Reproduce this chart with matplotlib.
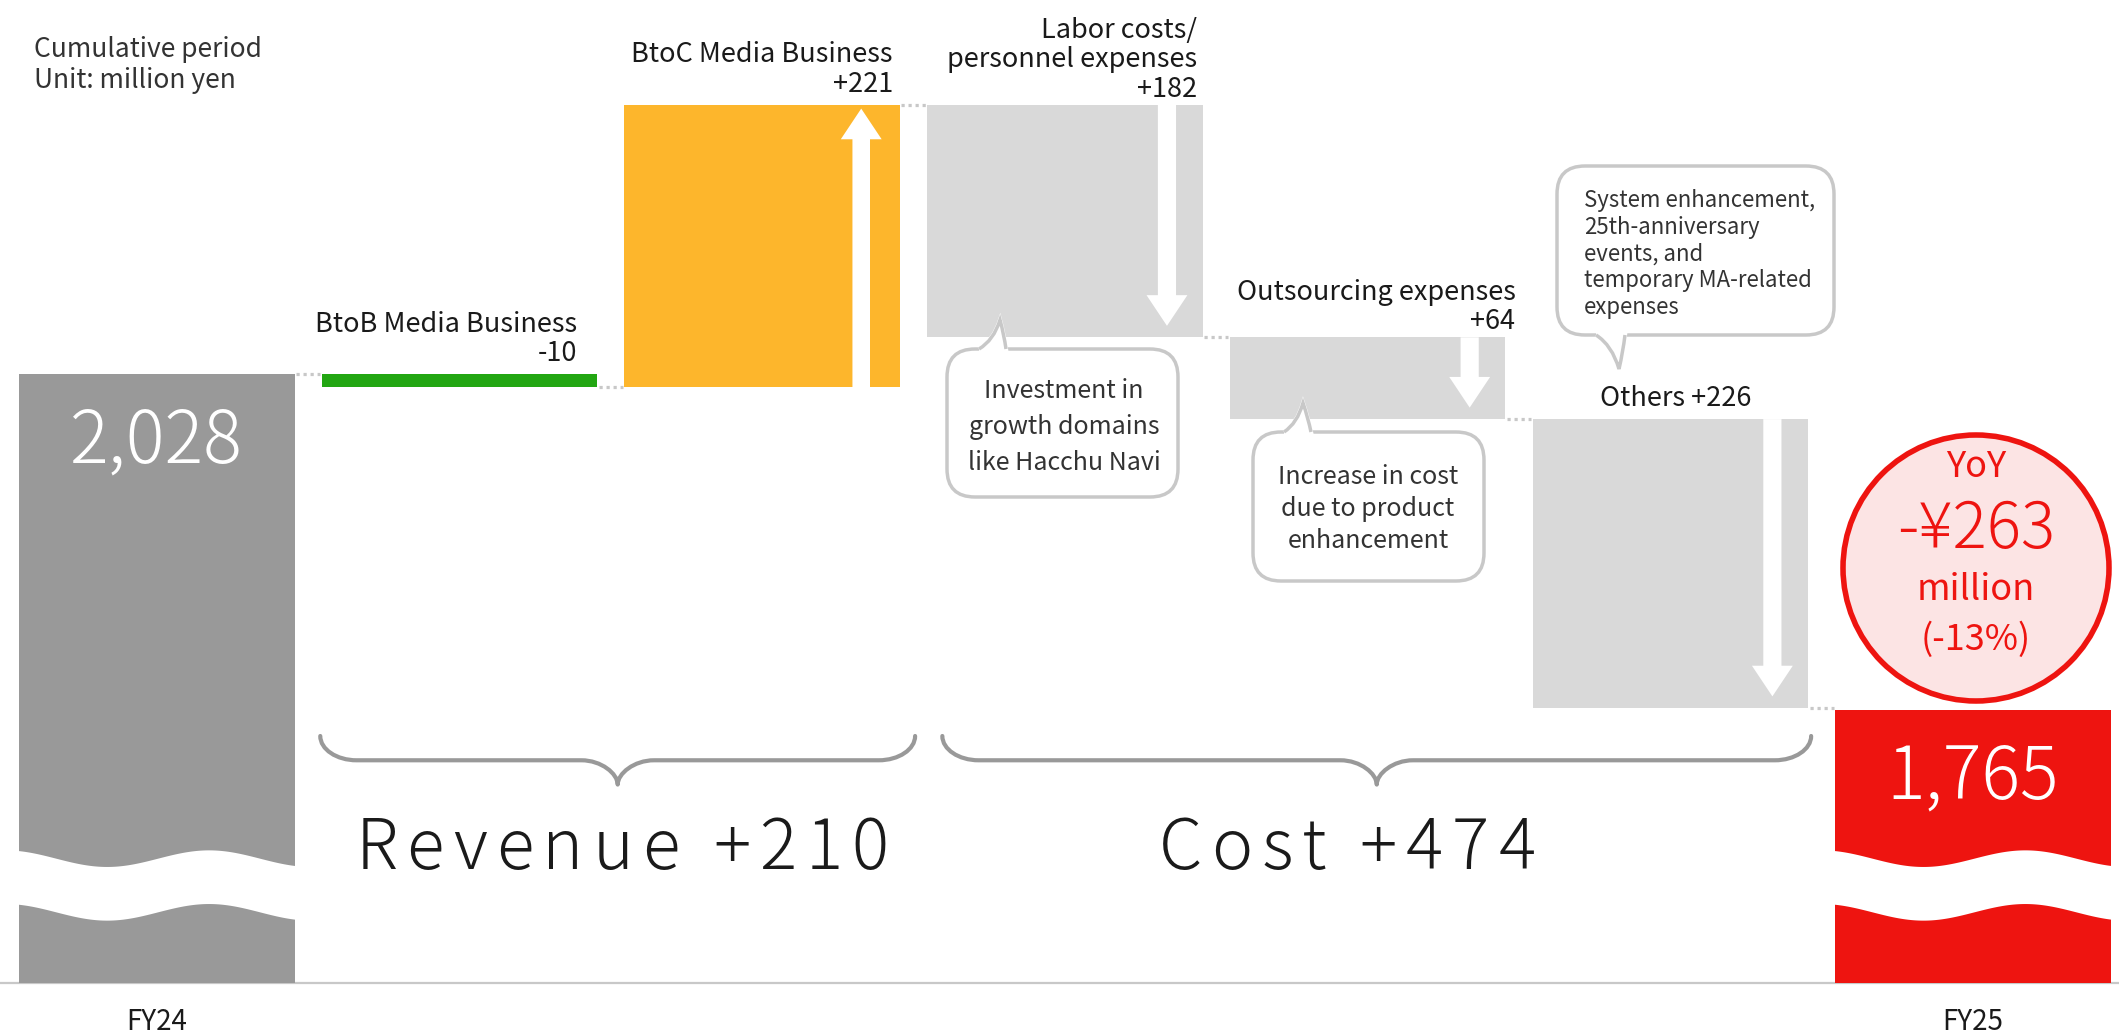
import numpy as np
import matplotlib
matplotlib.use('Agg')
import matplotlib.pyplot as plt
from matplotlib.patches import Circle, FancyBboxPatch, FancyArrow, PathPatch, Polygon
from matplotlib.path import Path
from matplotlib.font_manager import FontProperties, findfont, get_font

plt.rcParams['font.family'] = ['Noto Sans CJK JP', 'DejaVu Sans']

# values in million yen
start_label = 'FY24'
end_label = 'FY25'
start_value = 2028
end_value = 1765
step_names = ['BtoB Media Business', 'BtoC Media Business',
              'Labor costs/\npersonnel expenses', 'Outsourcing expenses', 'Others']
step_deltas = [-10, 221, -182, -64, -226]
step_texts = ['-10', '+221', '+182', '+64', '+226']
step_colors = ['#22a612', '#fdb62c', '#d9d9d9', '#d9d9d9', '#d9d9d9']
revenue_total = '+210'
cost_total = '+474'
yoy_amount = '-¥263'
yoy_pct = '(-13%)'

ink = '#1a1a1a'
W, H = 2119, 1035
fig = plt.figure(figsize=(W / 100, H / 100), dpi=100)
ax = fig.add_axes([0, 0, 1, 1])
ax.set_xlim(-0.518, 6.482)
ax.set_ylim(1511, 2321)
ax.axis('off')

base = 1552   # value at the (broken) floor of the chart
bw = 0.91

# start / end bars
ax.bar([0], [start_value - base], bottom=base, width=bw, color='#999999', zorder=2)
ax.bar([6], [end_value - base], bottom=base, width=bw, color='#ee1410', zorder=2)

# floating steps
level = start_value
levels = [level]
tops, bottoms = [], []
for i, d in enumerate(step_deltas):
    lo, hi = min(level, level + d), max(level, level + d)
    ax.bar([i + 1], [hi - lo], bottom=lo, width=bw, color=step_colors[i], zorder=2)
    tops.append(hi)
    bottoms.append(lo)
    # white arrow inside the bar
    ax_x = i + 1 + bw / 2 - 0.118
    if abs(d) > 30:
        if d > 0:
            ax.add_patch(FancyArrow(ax_x - 0.01, lo, 0, hi - lo - 3, width=0.058, head_width=0.135,
                                    head_length=24, length_includes_head=True,
                                    fc='white', ec='none', zorder=3))
        else:
            ax.add_patch(FancyArrow(ax_x, hi, 0, -(hi - lo - 9), width=0.06, head_width=0.135,
                                    head_length=24, length_includes_head=True,
                                    fc='white', ec='none', zorder=3))
    level += d
    levels.append(level)

# dotted connectors
for i, lv in enumerate(levels):
    ax.plot([i + bw / 2 + 0.005, i + 1 - bw / 2 - 0.005], [lv, lv], color='#c8c8c8',
            lw=2.3, ls=(0, (1, 1.2)), zorder=1)

# floor line
ax.axhline(base, color='#c8c8c8', lw=1.6, zorder=1)

# axis-break waves
def wave_cut(xc):
    xs = np.linspace(xc - bw / 2 - 0.01, xc + bw / 2 + 0.01, 200)
    t = (xs - (xc - bw / 2)) / bw
    w = 6.5 * np.cos(2 * np.pi * (t - 0.69) / 0.74)
    up = 1649 + w
    dn = 1607 + w
    pts = np.vstack([np.column_stack([xs, up]), np.column_stack([xs[::-1], dn[::-1]])])
    ax.add_patch(Polygon(pts, closed=True, fc='white', ec='none', zorder=2.5))

wave_cut(0)
wave_cut(6)

# values on the end bars
ax.text(0, start_value - 69, f'{start_value:,}', color='white', fontsize=52, fontweight='light',
        ha='center', va='baseline', zorder=4)
ax.text(6, end_value - 69, f'{end_value:,}', color='white', fontsize=52, fontweight='light',
        ha='center', va='baseline', zorder=4)
ax.text(0, 1515, start_label, color=ink, fontsize=20, ha='center', va='baseline')
ax.text(6, 1515, end_label, color=ink, fontsize=20, ha='center', va='baseline')

# step labels
label_dx = [-20, -7, -6, 10]
label_dy = [5, 5, 1.5, 1.5]
for i in range(4):
    ax.annotate(step_names[i] + '\n' + step_texts[i], xy=(i + 1 + bw / 2, tops[i]),
                xytext=(label_dx[i] * 0.72, label_dy[i]), textcoords='offset points',
                ha='right', va='bottom', fontsize=19.5, color=ink, linespacing=1.12)
ax.annotate(step_names[4] + ' ' + step_texts[4], xy=(5, tops[4]), xytext=(4, 5),
            textcoords='offset points', ha='center', va='bottom', fontsize=19.5, color=ink)

# braces
def brace(x0, x1, yt=1745, ym=1726, yb=1707, r=0.12):
    xc = (x0 + x1) / 2
    k = 0.55
    verts = [(x0, yt), (x0, yt - k * (yt - ym)), (x0 + r * (1 - k), ym), (x0 + r, ym),
             (xc - r, ym),
             (xc - r * (1 - k), ym), (xc, ym - k * (ym - yb)), (xc, yb),
             (xc, ym - k * (ym - yb)), (xc + r * (1 - k), ym), (xc + r, ym),
             (x1 - r, ym),
             (x1 - r * (1 - k), ym), (x1, yt - k * (yt - ym)), (x1, yt)]
    codes = [Path.MOVETO] + [Path.CURVE4] * 3 + [Path.LINETO] + [Path.CURVE4] * 6 + \
            [Path.LINETO] + [Path.CURVE4] * 3
    ax.add_patch(PathPatch(Path(verts, codes), fill=False, ec='#999999', lw=3,
                           capstyle='round', joinstyle='round'))

brace(1 - 0.46, 2 + 0.505)
brace(3 - 0.405, 5 + 0.465)

# overlay in pixel coordinates for notes, callouts and the YoY badge
ov = fig.add_axes([0, 0, 1, 1])
ov.set_xlim(0, W)
ov.set_ylim(H, 0)
ov.axis('off')
ov.patch.set_alpha(0)

ov.text(34, 57, 'Cumulative period', fontsize=19, color='#333333', va='baseline')
ov.text(34, 88, 'Unit: million yen', fontsize=19, color='#333333', va='baseline')


def spaced_text(xc, y, s, size, track):
    prop = FontProperties(family='Noto Sans CJK JP', weight='light', size=size)
    font = get_font(findfont(prop))
    font.set_size(size, 100)
    advs = [font.load_char(ord(c)).linearHoriAdvance / 65536 for c in s]
    total = sum(advs) + track * (len(s) - 1)
    x = xc - total / 2
    for c, a in zip(s, advs):
        if c != ' ':
            ov.text(x + a / 2, y, c, fontproperties=prop, color=ink, ha='center', va='baseline')
        x += a + track


spaced_text(622, 869, 'Revenue ' + revenue_total, 50, 9)
spaced_text(1347, 869, 'Cost ' + cost_total, 50, 9)


def callout(x0, y0, x1, y1, bl, br, tip, side):
    ov.add_patch(FancyBboxPatch((x0, y0), x1 - x0, y1 - y0,
                                boxstyle='round,pad=0,rounding_size=28',
                                fc='white', ec='#c8c8c8', lw=2.5, zorder=5))
    ey = y0 if side == 'top' else y1
    tx, ty = tip
    cl = (bl + 0.7 * (tx - bl), ey + 0.3 * (ty - ey))
    cr = ((tx + br) / 2 + 1, (ty + ey) / 2)
    verts = [(bl, ey), cl, tip, cr, (br, ey)]
    codes = [Path.MOVETO, Path.CURVE3, Path.CURVE3, Path.CURVE3, Path.CURVE3]
    ov.add_patch(PathPatch(Path(verts + [(bl, ey)], codes + [Path.LINETO]),
                           fc='white', ec='white', lw=3, zorder=6))
    ov.add_patch(PathPatch(Path(verts, codes), fill=False, ec='#c8c8c8', lw=2.5, zorder=7))


callout(947, 349, 1178, 497, 979, 1006, (1000, 320), 'top')
ov.text(1064, 427, 'Investment in\ngrowth domains\nlike Hacchu Navi', fontsize=18,
        color='#333333', ha='center', va='center', linespacing=1.48, zorder=8)
callout(1253, 432, 1484, 581, 1284, 1311, (1303, 403), 'top')
ov.text(1368, 509, 'Increase in cost\ndue to product\nenhancement', fontsize=18,
        color='#333333', ha='center', va='center', linespacing=1.32, zorder=8)
callout(1557, 166, 1834, 335, 1596, 1625, (1619, 369), 'bottom')
ov.text(1584, 254, 'System enhancement,\n25th-anniversary\nevents, and\ntemporary MA-related\nexpenses',
        fontsize=16, color='#333333', ha='left', va='center', linespacing=1.22, zorder=8)

# YoY badge
ov.add_patch(Circle((1976, 568), 133, fc='#fce4e4', ec='#ee1410', lw=4, zorder=5))
red = '#ee1410'
ov.text(1976, 477, 'YoY', fontsize=26, color=red, ha='center', va='baseline', zorder=6)
ov.text(1976, 548, yoy_amount, fontsize=46, fontweight='light', color=red,
        ha='center', va='baseline', zorder=6)
ov.text(1976, 600, 'million', fontsize=26, color=red, ha='center', va='baseline', zorder=6)
ov.text(1976, 650, yoy_pct, fontsize=26, color=red, ha='center', va='baseline', zorder=6)

fig.savefig('out.png', dpi=100)
